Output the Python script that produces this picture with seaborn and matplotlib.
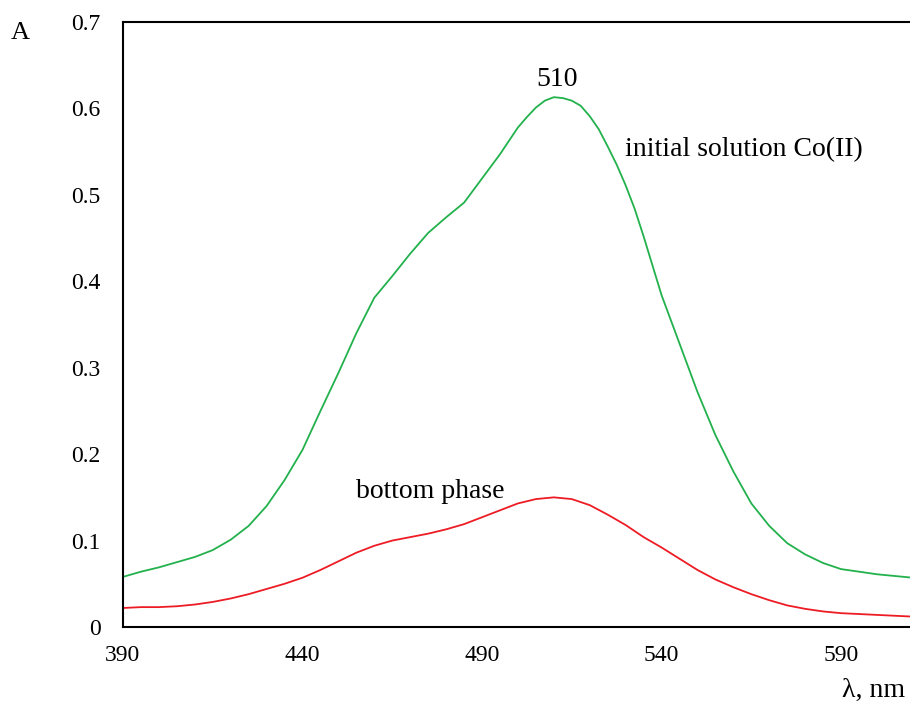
import pandas as pd
import seaborn as sns
import matplotlib.pyplot as plt

# initial Co(II) solution: wavelength (nm) and absorbance
wl_initial = [390, 395, 400, 405, 410, 415, 420, 425, 430, 435, 440, 445, 450, 455,
              460, 465, 470, 475, 480, 485, 490, 495, 500, 502.5, 505, 507.5, 510,
              512.5, 515, 517.5, 520, 522.5, 525, 527.5, 530, 532.5, 535, 537.5, 540,
              545, 550, 555, 560, 565, 570, 575, 580, 585, 590, 595, 600, 605, 610]
a_initial = [0.058, 0.064, 0.069, 0.075, 0.081, 0.089, 0.101, 0.117, 0.140, 0.170,
             0.205, 0.250, 0.294, 0.340, 0.381, 0.406, 0.432, 0.456, 0.474, 0.491,
             0.519, 0.547, 0.578, 0.590, 0.601, 0.609, 0.613, 0.612, 0.609, 0.603,
             0.591, 0.576, 0.556, 0.535, 0.511, 0.484, 0.452, 0.418, 0.384,
             0.328, 0.272, 0.222, 0.180, 0.143, 0.117, 0.097, 0.084, 0.074,
             0.067, 0.064, 0.061, 0.059, 0.057]

# bottom phase: wavelength (nm) and absorbance
wl_bottom = [390, 395, 400, 405, 410, 415, 420, 425, 430, 435, 440, 445, 450, 455,
             460, 465, 470, 475, 480, 485, 490, 495, 500, 505, 510, 515, 520, 525,
             530, 535, 540, 545, 550, 555, 560, 565, 570, 575, 580, 585, 590, 595,
             600, 605, 610]
a_bottom = [0.022, 0.023, 0.023, 0.024, 0.026, 0.029, 0.033, 0.038, 0.044, 0.050,
            0.057, 0.066, 0.076, 0.086, 0.094, 0.100, 0.104, 0.108, 0.113, 0.119,
            0.127, 0.135, 0.143, 0.148, 0.150, 0.148, 0.141, 0.130, 0.118, 0.104,
            0.092, 0.079, 0.066, 0.055, 0.046, 0.038, 0.031, 0.025, 0.021, 0.018,
            0.016, 0.015, 0.014, 0.013, 0.012]

x_ticks = [390, 440, 490, 540, 590]
y_ticks = [0, 0.1, 0.2, 0.3, 0.4, 0.5, 0.6, 0.7]
y_tick_labels = ["0", "0.1", "0.2", "0.3", "0.4", "0.5", "0.6", "0.7"]

df = pd.DataFrame({
    "wavelength": wl_initial + wl_bottom,
    "A": a_initial + a_bottom,
    "sample": ["initial"] * len(wl_initial) + ["bottom"] * len(wl_bottom),
})

sns.set_style("white")
plt.rcParams["font.family"] = ["Liberation Serif", "DejaVu Serif"]
plt.rcParams["text.color"] = "black"

fig = plt.figure(figsize=(9.1, 7.07), dpi=100)
ax = fig.add_axes([123 / 910, 80 / 707, 787 / 910, 605 / 707])

sns.lineplot(data=df, x="wavelength", y="A", hue="sample",
             palette={"initial": "#22b14c", "bottom": "#ed1c24"},
             linewidth=1.3, legend=False, ax=ax)
for line in ax.lines:
    line.set_solid_joinstyle("round")

ax.set_xlim(390, 609.2)
ax.set_ylim(0, 0.7)
ax.set_xticks(x_ticks)
ax.set_xticklabels([str(t) for t in x_ticks])
ax.set_yticks(y_ticks)
ax.set_yticklabels(y_tick_labels)
ax.set_xlabel("")
ax.set_ylabel("")
ax.tick_params(direction="in", length=5, width=1, labelsize=17, pad=13,
               color="black", labelcolor="black")
ax.tick_params(axis="y", pad=16)

for side in ["left", "bottom", "top"]:
    ax.spines[side].set_visible(True)
    ax.spines[side].set_color("black")
    ax.spines[side].set_linewidth(1.5)
ax.spines["right"].set_visible(False)

ax.text(510.9, 0.633, "510", fontsize=20, ha="center", va="center", color="black")
ax.text(529.8, 0.552, "initial solution Co(II)", fontsize=20, ha="left", va="center",
        color="black")
ax.text(454.9, 0.157, "bottom phase", fontsize=20, ha="left", va="center", color="black")

fig.text(11 / 910, 1 - 33 / 707, "A", fontsize=19, ha="left", va="center", color="black")
fig.text(905 / 910, 1 - 690 / 707, "λ, nm", fontsize=20, ha="right", va="center",
         color="black")

fig.savefig("out.png", dpi=100)
